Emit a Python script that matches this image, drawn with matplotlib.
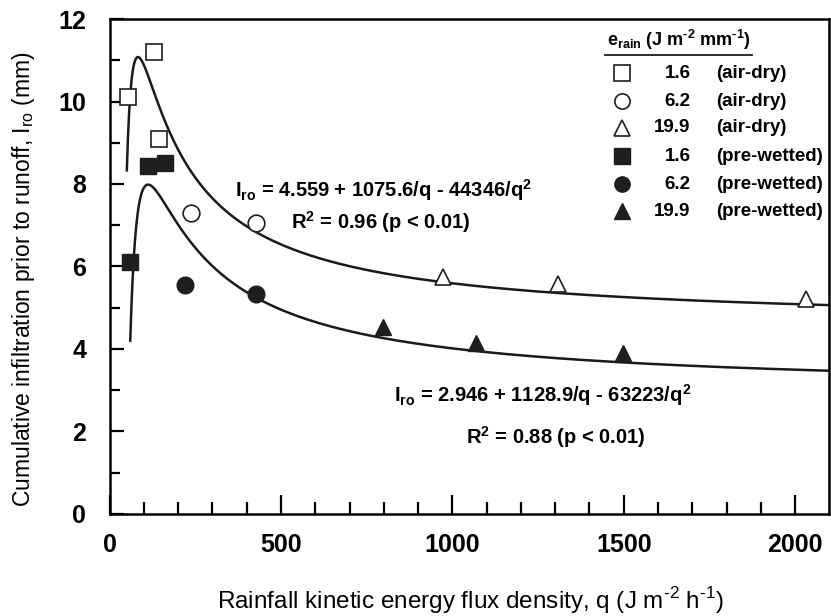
import numpy as np
import matplotlib
matplotlib.use("Agg")
import matplotlib.pyplot as plt

plt.rcParams['font.family'] = ['Liberation Sans', 'DejaVu Sans']
plt.rcParams['mathtext.fontset'] = 'custom'
plt.rcParams['mathtext.rm'] = 'Liberation Sans'
plt.rcParams['mathtext.bf'] = 'Liberation Sans:bold'

# observações: q (J m-2 h-1) e Iro (mm)
q_sq_open = [52, 128, 143]
i_sq_open = [10.1, 11.2, 9.1]
q_ci_open = [238, 428]
i_ci_open = [7.3, 7.05]
q_tr_open = [972, 1309, 2031]
i_tr_open = [5.75, 5.57, 5.22]
q_sq_fill = [58, 112, 162]
i_sq_fill = [6.1, 8.43, 8.52]
q_ci_fill = [221, 428]
i_ci_fill = [5.55, 5.33]
q_tr_fill = [797, 1069, 1499]
i_tr_fill = [4.53, 4.15, 3.89]

# coeficientes do ajuste Iro = a + b/q - c/q^2
coef_seco = [4.559, 1075.6, 44346]
coef_umido = [2.946, 1128.9, 63223]
q_ini = [50, 60]

legenda_val = ['1.6', '6.2', '19.9', '1.6', '6.2', '19.9']
legenda_txt = ['(air-dry)', '(air-dry)', '(air-dry)', '(pre-wetted)', '(pre-wetted)', '(pre-wetted)']

fig = plt.figure(figsize=(8.31, 6.16), dpi=100)
ax = fig.add_axes([0.132, 0.166, 0.866, 0.803])

def curva(c, q0):
    q = np.linspace(q0, 2100, 600)
    return q, c[0] + c[1] / q - c[2] / q ** 2

for c, q0 in zip([coef_seco, coef_umido], q_ini):
    q, y = curva(c, q0)
    ax.plot(q, y, color='#1a1a1a', lw=1.8, zorder=2)

escuro = '#1e1e1e'
estilo_aberto = dict(ls='none', mfc='white', mec=escuro, mew=1.2, zorder=3)
estilo_cheio = dict(ls='none', mfc=escuro, mec=escuro, mew=1.0, zorder=3)
ax.plot(q_sq_open, i_sq_open, marker='s', ms=12, **estilo_aberto)
ax.plot(q_ci_open, i_ci_open, marker='o', ms=12, **estilo_aberto)
ax.plot(q_tr_open, i_tr_open, marker='^', ms=12, **estilo_aberto)
ax.plot(q_sq_fill, i_sq_fill, marker='s', ms=12, **estilo_cheio)
ax.plot(q_ci_fill, i_ci_fill, marker='o', ms=12, **estilo_cheio)
ax.plot(q_tr_fill, i_tr_fill, marker='^', ms=12, **estilo_cheio)

ax.set_xlim(0, 2100)
ax.set_ylim(0, 12)
ax.set_xticks(np.arange(0, 2001, 500))
ax.set_xticks(np.arange(0, 2100, 100), minor=True)
ax.set_yticks(np.arange(0, 13, 2))
ax.set_yticks(np.arange(0, 13, 1), minor=True)
ax.tick_params(which='both', direction='in', top=False, right=False, width=1.6, labelsize=18)
ax.tick_params(which='major', axis='x', length=14, pad=14)
ax.tick_params(which='minor', axis='x', length=9)
ax.tick_params(which='major', axis='y', length=10, pad=17)
ax.tick_params(which='minor', axis='y', length=7)
for lab in ax.get_xticklabels() + ax.get_yticklabels():
    lab.set_fontweight('bold')
for s in ax.spines.values():
    s.set_linewidth(1.8)

ax.set_xlabel('Rainfall kinetic energy flux density, q (J m$^{\\rm \u20102}$ h$^{\\rm \u20101}$)', fontsize=17.5)
ax.set_ylabel(r'Cumulative infiltration prior to runoff, I$_{\rm ro}$ (mm)', fontsize=16.5)
ax.xaxis.set_label_coords(0.502, -0.175)
ax.yaxis.set_label_coords(-0.12, 0.475)
ax.xaxis.label.set_va('center')
ax.yaxis.label.set_va('center')

# equações dos ajustes
eq = dict(fontsize=14.5, fontweight='bold', va='center')
ax.text(365, 7.85, r'I$_{\bf ro}$ = 4.559 + 1075.6/q - 44346/q$^{\bf 2}$', ha='left', **eq)
ax.text(790, 7.07, r'R$^{\bf 2}$ = 0.96 (p < 0.01)', ha='center', **eq)
ax.text(831, 2.88, r'I$_{\bf ro}$ = 2.946 + 1128.9/q - 63223/q$^{\bf 2}$', ha='left', **eq)
ax.text(1303, 1.86, r'R$^{\bf 2}$ = 0.88 (p < 0.01)', ha='center', **eq)

# legenda manual
tr = ax.transAxes
ax.text(0.691, 0.958, 'e$_{\\bf rain}$ (J m$^{\\bf \u20102}$ mm$^{\\bf \u20101}$)', transform=tr, fontsize=13,
        fontweight='bold', ha='left', va='center')
ax.plot([0.688, 0.893], [0.927, 0.927], transform=tr, color=escuro, lw=1.3)
ys = [0.891, 0.834, 0.780, 0.723, 0.666, 0.612]
marcadores = ['s', 'o', '^', 's', 'o', '^']
for k, (y, m) in enumerate(zip(ys, marcadores)):
    est = estilo_aberto if k < 3 else estilo_cheio
    ax.plot([0.712], [y], transform=tr, marker=m, ms=11, clip_on=False, **est)
    ax.text(0.807, y, legenda_val[k], transform=tr, fontsize=13.5, fontweight='bold', ha='right', va='center')
    ax.text(0.843, y, legenda_txt[k], transform=tr, fontsize=13.5, fontweight='bold', ha='left', va='center')

fig.savefig('out.png', dpi=100)
